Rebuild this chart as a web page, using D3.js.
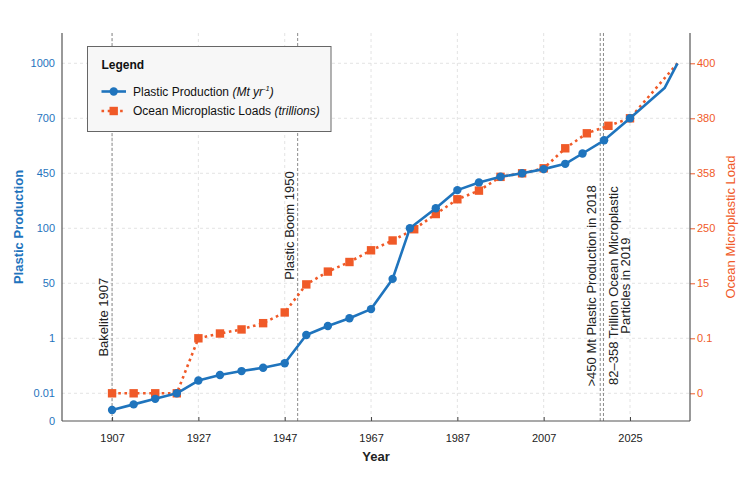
<!DOCTYPE html>
<html>
<head>
<meta charset="utf-8">
<script src="https://cdn.jsdelivr.net/npm/d3@7"></script>
<style>
  body { margin: 0; background: #fff; }
  svg { display: block; font-family: "Liberation Sans", Arial, Helvetica, sans-serif; }
</style>
</head>
<body>
<div class="chart"></div>
<script>
// ---------- data ----------
const prodYears  = [1907, 1912, 1917, 1922, 1927, 1932, 1937, 1942, 1947, 1952, 1957, 1962, 1967, 1972, 1976,
                    1982, 1987, 1992, 1997, 2002, 2007, 2012, 2016, 2021, 2027, 2035, 2038];
const prodValues = [0.004, 0.006, 0.008, 0.01, 0.24, 0.34, 0.41, 0.47, 0.55, 3.9, 12, 18.8, 27, 54, 100,
                    228, 343, 392, 428, 450, 469, 493, 540, 600, 700, 865, 1000];

const loadYears  = [1907, 1912, 1917, 1922, 1927, 1932, 1937, 1942, 1947, 1952, 1957, 1962, 1967, 1972, 1977,
                    1982, 1987, 1992, 1997, 2002, 2007, 2012, 2017, 2022, 2027, 2038];
const loadValues = [0, 0, 0, 0, 0.1, 1.4, 2.5, 4.2, 7.1, 14.7, 65, 106, 156, 198, 246,
                    278, 307, 324, 351, 358, 360, 368, 374, 377, 380, 400];

const lastMarkedYear = 2027;   // later points are drawn without markers

const leftTicks   = [0, 0.01, 1, 50, 100, 450, 700, 1000];
const rightTicks  = [0, 0.1, 15, 250, 358, 380, 400];
const xTickYears  = [1907, 1927, 1947, 1967, 1987, 2007, 2027];
const xTickLabels = ["1907", "1927", "1947", "1967", "1987", "2007", "2025"];

const annoYears  = [1907, 1950, 2020.1, 2020.85];
const annoLabels = [["Bakelite 1907"], ["Plastic Boom 1950"], [">450 Mt Plastic Production in 2018"],
                    ["82\u2013358 Trillion Ocean Microplastic", "Particles in 2019"]];

// ---------- layout ----------
const width = 750, height = 478;
const margin = {top: 33, right: 60, bottom: 57, left: 62};
const plotB = height - margin.bottom, plotR = width - margin.right;
const blue = "#1f74bd", orange = "#f05a28";

const svg = d3.select(".chart").append("svg")
    .attr("width", width).attr("height", height);

const x = d3.scaleLinear().domain([1895.4, 2040.9]).range([margin.left, plotR]);

// evenly spaced custom ticks -> piecewise linear scales
const step = 55, topTick = 63.3;
const yL = d3.scaleLinear().domain(leftTicks)
    .range(leftTicks.map((d, i) => i === 0 ? plotB : topTick + (leftTicks.length - 1 - i) * step));
const yR = d3.scaleLinear().domain(rightTicks)
    .range(rightTicks.map((d, i) => topTick + (rightTicks.length - 1 - i) * step));

// grid
const grid = svg.append("g").attr("stroke", "#dcdcdc").attr("stroke-dasharray", "3,3").attr("stroke-width", 0.8);
grid.selectAll("line.h").data(leftTicks.slice(1)).join("line")
    .attr("x1", margin.left).attr("x2", plotR)
    .attr("y1", d => yL(d)).attr("y2", d => yL(d));
grid.selectAll("line.v").data(xTickYears).join("line")
    .attr("x1", d => x(d)).attr("x2", d => x(d))
    .attr("y1", margin.top).attr("y2", plotB);

// annotation lines + text
const annoY = [0.834, 0.636, 0.911, 0.651];
const annoSide = [-1, -1, -1, 1];
const annoAnchor = ["start", "start", "start", "middle"];
const ann = svg.append("g");
annoYears.forEach((yr, i) => {
    ann.append("line")
        .attr("x1", x(yr)).attr("x2", x(yr))
        .attr("y1", margin.top).attr("y2", plotB)
        .attr("stroke", "#8a8a8a").attr("stroke-width", 1).attr("stroke-dasharray", "3,2");
    const ty = margin.top + annoY[i] * (plotB - margin.top);
    annoLabels[i].forEach((line, j) => {
        const bx = annoSide[i] < 0 ? x(yr) - 4 : x(yr) + 14.5 + j * 12;
        ann.append("text")
            .attr("transform", `translate(${bx},${ty}) rotate(-90)`)
            .attr("text-anchor", annoAnchor[i])
            .attr("font-size", 13).attr("fill", "#222")
            .text(line);
    });
});

// series
const loadData = loadYears.map((yr, i) => ({yr, v: loadValues[i]}));
const prodData = prodYears.map((yr, i) => ({yr, v: prodValues[i]}));

svg.append("path").datum(loadData)
    .attr("fill", "none").attr("stroke", orange).attr("stroke-width", 2.6)
    .attr("stroke-dasharray", "2.6,3.6")
    .attr("d", d3.line().x(d => x(d.yr)).y(d => yR(d.v)));
svg.append("g").selectAll("rect").data(loadData.filter(d => d.yr <= lastMarkedYear)).join("rect")
    .attr("x", d => x(d.yr) - 4.2).attr("y", d => yR(d.v) - 4.2)
    .attr("width", 8.4).attr("height", 8.4).attr("fill", orange);

svg.append("path").datum(prodData)
    .attr("fill", "none").attr("stroke", blue).attr("stroke-width", 2.6)
    .attr("stroke-linejoin", "round")
    .attr("d", d3.line().x(d => x(d.yr)).y(d => yL(d.v)));
svg.append("g").selectAll("circle").data(prodData.filter(d => d.yr <= lastMarkedYear)).join("circle")
    .attr("cx", d => x(d.yr)).attr("cy", d => yL(d.v)).attr("r", 4.2).attr("fill", blue);

// axes
const leftAxis = svg.append("g")
    .attr("transform", `translate(${margin.left},0)`)
    .call(d3.axisLeft(yL).tickValues(leftTicks).tickSize(0).tickPadding(7).tickFormat(d => String(d)));
leftAxis.selectAll("text").attr("fill", blue).attr("font-size", 11);

const rightAxis = svg.append("g")
    .attr("transform", `translate(${plotR},0)`)
    .call(d3.axisRight(yR).tickValues(rightTicks).tickSize(5).tickPadding(2).tickFormat(d => String(d)));
rightAxis.selectAll("text").attr("fill", orange).attr("font-size", 11);
rightAxis.selectAll("line").attr("stroke", orange);

const bottomAxis = svg.append("g")
    .attr("transform", `translate(0,${plotB})`)
    .call(d3.axisBottom(x).tickValues(xTickYears).tickSize(-4).tickPadding(13)
        .tickFormat((d, i) => xTickLabels[i]));
bottomAxis.selectAll("text").attr("fill", "#222").attr("font-size", 11);
bottomAxis.selectAll("line").attr("stroke", "#444");

svg.selectAll(".domain").remove();

// spines
const spines = svg.append("g").attr("stroke", "#555").attr("stroke-width", 1.2);
spines.append("line").attr("x1", margin.left).attr("x2", margin.left).attr("y1", margin.top).attr("y2", plotB);
spines.append("line").attr("x1", plotR).attr("x2", plotR).attr("y1", margin.top).attr("y2", plotB);
spines.append("line").attr("x1", margin.left).attr("x2", plotR).attr("y1", plotB).attr("y2", plotB);

// axis titles
svg.append("text")
    .attr("transform", `translate(22.5,${(margin.top + plotB) / 2}) rotate(-90)`)
    .attr("text-anchor", "middle").attr("font-size", 13).attr("font-weight", "bold")
    .attr("fill", blue).text("Plastic Production");
svg.append("text")
    .attr("transform", `translate(734.5,${(margin.top + plotB) / 2}) rotate(-90)`)
    .attr("text-anchor", "middle").attr("font-size", 13)
    .attr("fill", orange).text("Ocean Microplastic Load");
svg.append("text")
    .attr("x", (margin.left + plotR) / 2).attr("y", 461)
    .attr("text-anchor", "middle").attr("font-size", 13).attr("font-weight", "bold")
    .attr("fill", "#222").text("Year");

// legend
const lg = svg.append("g").attr("transform", "translate(87.5,46.5)");
lg.append("rect").attr("width", 243.5).attr("height", 85)
    .attr("fill", "#f7f7f7").attr("stroke", "#666").attr("stroke-width", 1);
lg.append("text").attr("x", 14).attr("y", 22).attr("font-size", 12).attr("font-weight", "bold")
    .attr("fill", "#111").text("Legend");

const row1 = lg.append("g").attr("transform", "translate(14,45)");
row1.append("line").attr("x1", 0).attr("x2", 24.5).attr("stroke", blue).attr("stroke-width", 2.6);
row1.append("circle").attr("cx", 12.2).attr("r", 4.2).attr("fill", blue);
const t1 = row1.append("text").attr("x", 31.5).attr("y", 4.3).attr("font-size", 12).attr("fill", "#111");
t1.append("tspan").text("Plastic Production ");
t1.append("tspan").attr("font-style", "italic").text("(Mt yr");
t1.append("tspan").attr("font-style", "italic").attr("font-size", 7.5).attr("dy", -4.5).text("-1");
t1.append("tspan").attr("font-style", "italic").attr("dy", 4.5).text(")");

const row2 = lg.append("g").attr("transform", "translate(14,64.5)");
row2.append("line").attr("x1", 0).attr("x2", 24.5).attr("stroke", orange).attr("stroke-width", 2.6)
    .attr("stroke-dasharray", "2.6,3.6");
row2.append("rect").attr("x", 12.2 - 4.2).attr("y", -4.2).attr("width", 8.4).attr("height", 8.4).attr("fill", orange);
const t2 = row2.append("text").attr("x", 31.5).attr("y", 4.3).attr("font-size", 12).attr("fill", "#111");
t2.append("tspan").text("Ocean Microplastic Loads ");
t2.append("tspan").attr("font-style", "italic").text("(trillions)");
</script>
</body>
</html>
